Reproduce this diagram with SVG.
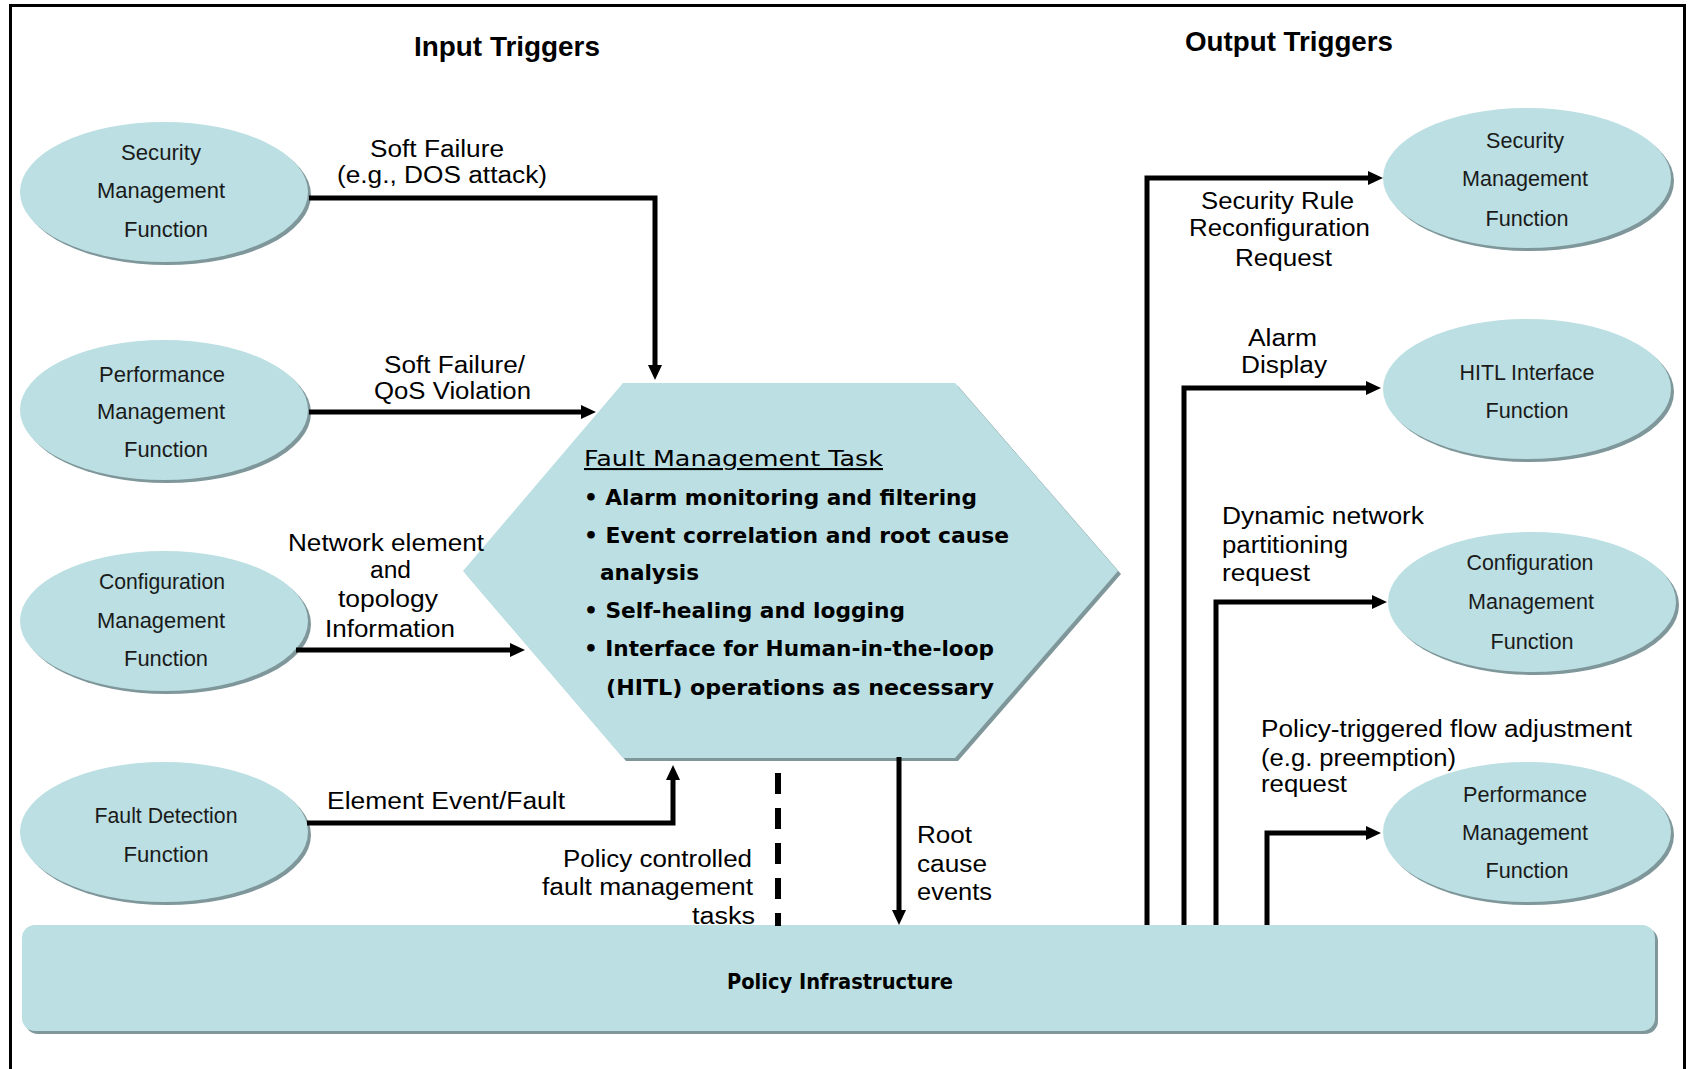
<svg xmlns="http://www.w3.org/2000/svg" width="1688" height="1069" viewBox="0 0 1688 1069">
  <defs>
    <style>
      .bg { fill: #ffffff; }
      .frame { fill: none; stroke: #000; stroke-width: 3; }
      .shade { fill: #7F979A; }
      .body { fill: #BBDFE2; }
      .ntext { font-family: "Liberation Sans", Arial, sans-serif; font-size: 22.5px; fill: #1a1a1a; text-anchor: middle; }
      .title { font-family: "Liberation Sans", Arial, sans-serif; font-size: 28px; font-weight: bold; fill: #000; }
      .lbl { font-family: "Liberation Sans", Arial, sans-serif; font-size: 23px; fill: #000; }
      .task { font-family: "DejaVu Sans", Verdana, sans-serif; font-size: 21px; font-weight: bold; fill: #000; }
      .taskhead { font-family: "DejaVu Sans", Verdana, sans-serif; font-size: 21px; fill: #000; text-decoration: underline; }
      .wire { fill: none; stroke: #000; stroke-width: 5; stroke-linejoin: miter; }
      .dash { fill: none; stroke: #000; stroke-width: 6; stroke-dasharray: 21 14; }
    </style>
    <marker id="arrow" viewBox="0 0 15 14" refX="1" refY="7" markerWidth="15" markerHeight="14" markerUnits="userSpaceOnUse" orient="auto">
      <path d="M0,0 L15,7 L0,14 z" fill="#000"/>
    </marker>
  </defs>

  <rect class="bg" x="0" y="0" width="1688" height="1069"/>
  <path class="frame" d="M10.5,1069 V5.5 H1684.5 V1069"/>

  <!-- column headings -->
  <text class="title" x="414" y="56" textLength="186" lengthAdjust="spacingAndGlyphs">Input Triggers</text>
  <text class="title" x="1185" y="51" textLength="208" lengthAdjust="spacingAndGlyphs">Output Triggers</text>

  <!-- input functions -->
  <g id="in-security">
    <ellipse class="shade" cx="167" cy="195" rx="144" ry="70"/>
    <ellipse class="body" cx="164" cy="192" rx="144" ry="70"/>
    <text class="ntext" x="161" y="160" textLength="80" lengthAdjust="spacingAndGlyphs">Security</text>
    <text class="ntext" x="161" y="198" textLength="128" lengthAdjust="spacingAndGlyphs">Management</text>
    <text class="ntext" x="166" y="237" textLength="84" lengthAdjust="spacingAndGlyphs">Function</text>
  </g>
  <g id="in-performance">
    <ellipse class="shade" cx="167" cy="413" rx="144" ry="70"/>
    <ellipse class="body" cx="164" cy="410" rx="144" ry="70"/>
    <text class="ntext" x="162" y="382" textLength="126" lengthAdjust="spacingAndGlyphs">Performance</text>
    <text class="ntext" x="161" y="419" textLength="128" lengthAdjust="spacingAndGlyphs">Management</text>
    <text class="ntext" x="166" y="457" textLength="84" lengthAdjust="spacingAndGlyphs">Function</text>
  </g>
  <g id="in-configuration">
    <ellipse class="shade" cx="167" cy="624" rx="144" ry="70"/>
    <ellipse class="body" cx="164" cy="621" rx="144" ry="70"/>
    <text class="ntext" x="162" y="589" textLength="126" lengthAdjust="spacingAndGlyphs">Configuration</text>
    <text class="ntext" x="161" y="628" textLength="128" lengthAdjust="spacingAndGlyphs">Management</text>
    <text class="ntext" x="166" y="666" textLength="84" lengthAdjust="spacingAndGlyphs">Function</text>
  </g>
  <g id="in-fault-detection">
    <ellipse class="shade" cx="167" cy="835" rx="144" ry="70"/>
    <ellipse class="body" cx="164" cy="832" rx="144" ry="70"/>
    <text class="ntext" x="166" y="823" textLength="143" lengthAdjust="spacingAndGlyphs">Fault Detection</text>
    <text class="ntext" x="166" y="862" textLength="85" lengthAdjust="spacingAndGlyphs">Function</text>
  </g>

  <!-- central task -->
  <g id="fault-task">
    <polygon class="shade" points="626,386 958,386 1121,574 958,761 626,761 466,574"/>
    <polygon class="body" points="623,383 955,383 1118,571 955,758 623,758 463,571"/>
    <text class="taskhead" x="584" y="466" textLength="299" lengthAdjust="spacingAndGlyphs">Fault Management Task</text>
    <text class="task" x="584" y="505" textLength="393" lengthAdjust="spacingAndGlyphs">• Alarm monitoring and filtering</text>
    <text class="task" x="584" y="543" textLength="425" lengthAdjust="spacingAndGlyphs">• Event correlation and root cause</text>
    <text class="task" x="600" y="580" textLength="99" lengthAdjust="spacingAndGlyphs">analysis</text>
    <text class="task" x="584" y="618" textLength="321" lengthAdjust="spacingAndGlyphs">• Self-healing and logging</text>
    <text class="task" x="584" y="656" textLength="410" lengthAdjust="spacingAndGlyphs">• Interface for Human-in-the-loop</text>
    <text class="task" x="606" y="695" textLength="388" lengthAdjust="spacingAndGlyphs">(HITL) operations as necessary</text>
  </g>

  <!-- output functions -->
  <g id="out-security">
    <ellipse class="shade" cx="1530" cy="181" rx="144" ry="70"/>
    <ellipse class="body" cx="1527" cy="178" rx="144" ry="70"/>
    <text class="ntext" x="1525" y="148" textLength="78" lengthAdjust="spacingAndGlyphs">Security</text>
    <text class="ntext" x="1525" y="186" textLength="126" lengthAdjust="spacingAndGlyphs">Management</text>
    <text class="ntext" x="1527" y="226" textLength="83" lengthAdjust="spacingAndGlyphs">Function</text>
  </g>
  <g id="out-hitl">
    <ellipse class="shade" cx="1530" cy="392" rx="144" ry="70"/>
    <ellipse class="body" cx="1527" cy="389" rx="144" ry="70"/>
    <text class="ntext" x="1527" y="380" textLength="135" lengthAdjust="spacingAndGlyphs">HITL Interface</text>
    <text class="ntext" x="1527" y="418" textLength="83" lengthAdjust="spacingAndGlyphs">Function</text>
  </g>
  <g id="out-configuration">
    <ellipse class="shade" cx="1535" cy="605" rx="144" ry="70"/>
    <ellipse class="body" cx="1532" cy="602" rx="144" ry="70"/>
    <text class="ntext" x="1530" y="570" textLength="127" lengthAdjust="spacingAndGlyphs">Configuration</text>
    <text class="ntext" x="1531" y="609" textLength="126" lengthAdjust="spacingAndGlyphs">Management</text>
    <text class="ntext" x="1532" y="649" textLength="83" lengthAdjust="spacingAndGlyphs">Function</text>
  </g>
  <g id="out-performance">
    <ellipse class="shade" cx="1530" cy="835" rx="144" ry="70"/>
    <ellipse class="body" cx="1527" cy="832" rx="144" ry="70"/>
    <text class="ntext" x="1525" y="802" textLength="124" lengthAdjust="spacingAndGlyphs">Performance</text>
    <text class="ntext" x="1525" y="840" textLength="126" lengthAdjust="spacingAndGlyphs">Management</text>
    <text class="ntext" x="1527" y="878" textLength="83" lengthAdjust="spacingAndGlyphs">Function</text>
  </g>

  <!-- policy layer -->
  <g id="policy-infrastructure">
    <rect class="shade" x="25" y="928" width="1633" height="106" rx="13"/>
    <rect class="body" x="22" y="925" width="1633" height="106" rx="13"/>
    <text class="task" x="727" y="989" font-size="19" textLength="226" lengthAdjust="spacingAndGlyphs">Policy Infrastructure</text>
  </g>

  <!-- connectors -->
  <g id="connectors">
    <path class="wire" d="M309,198 H655 V366" marker-end="url(#arrow)"/>
    <path class="wire" d="M309,412 H582" marker-end="url(#arrow)"/>
    <path class="wire" d="M296,650 H511" marker-end="url(#arrow)"/>
    <path class="wire" d="M307,823 H673 V779" marker-end="url(#arrow)"/>
    <path class="dash" d="M778,773 V926"/>
    <path class="wire" d="M899,757 V911" marker-end="url(#arrow)"/>
    <path class="wire" d="M1147,925 V178 H1369" marker-end="url(#arrow)"/>
    <path class="wire" d="M1184,925 V388 H1367" marker-end="url(#arrow)"/>
    <path class="wire" d="M1216,925 V602 H1373" marker-end="url(#arrow)"/>
    <path class="wire" d="M1267,925 V833 H1367" marker-end="url(#arrow)"/>

    <text class="lbl" x="370" y="157" textLength="134" lengthAdjust="spacingAndGlyphs">Soft Failure</text>
    <text class="lbl" x="337" y="183" textLength="210" lengthAdjust="spacingAndGlyphs">(e.g., DOS attack)</text>
    <text class="lbl" x="384" y="373" textLength="141" lengthAdjust="spacingAndGlyphs">Soft Failure/</text>
    <text class="lbl" x="374" y="399" textLength="157" lengthAdjust="spacingAndGlyphs">QoS Violation</text>
    <text class="lbl" x="288" y="551" textLength="196" lengthAdjust="spacingAndGlyphs">Network element</text>
    <text class="lbl" x="370" y="578" textLength="41" lengthAdjust="spacingAndGlyphs">and</text>
    <text class="lbl" x="338" y="607" textLength="100" lengthAdjust="spacingAndGlyphs">topology</text>
    <text class="lbl" x="325" y="637" textLength="130" lengthAdjust="spacingAndGlyphs">Information</text>
    <text class="lbl" x="327" y="809" textLength="238" lengthAdjust="spacingAndGlyphs">Element Event/Fault</text>
    <text class="lbl" x="563" y="867" textLength="189" lengthAdjust="spacingAndGlyphs">Policy controlled</text>
    <text class="lbl" x="542" y="895" textLength="211" lengthAdjust="spacingAndGlyphs">fault management</text>
    <text class="lbl" x="692" y="924" textLength="63" lengthAdjust="spacingAndGlyphs">tasks</text>
    <text class="lbl" x="917" y="843" textLength="55" lengthAdjust="spacingAndGlyphs">Root</text>
    <text class="lbl" x="917" y="872" textLength="70" lengthAdjust="spacingAndGlyphs">cause</text>
    <text class="lbl" x="917" y="900" textLength="75" lengthAdjust="spacingAndGlyphs">events</text>

    <text class="lbl" x="1201" y="209" textLength="153" lengthAdjust="spacingAndGlyphs">Security Rule</text>
    <text class="lbl" x="1189" y="236" textLength="181" lengthAdjust="spacingAndGlyphs">Reconfiguration</text>
    <text class="lbl" x="1235" y="266" textLength="97" lengthAdjust="spacingAndGlyphs">Request</text>
    <text class="lbl" x="1248" y="346" textLength="69" lengthAdjust="spacingAndGlyphs">Alarm</text>
    <text class="lbl" x="1241" y="373" textLength="86" lengthAdjust="spacingAndGlyphs">Display</text>
    <text class="lbl" x="1222" y="524" textLength="202" lengthAdjust="spacingAndGlyphs">Dynamic network</text>
    <text class="lbl" x="1222" y="553" textLength="126" lengthAdjust="spacingAndGlyphs">partitioning</text>
    <text class="lbl" x="1222" y="581" textLength="88" lengthAdjust="spacingAndGlyphs">request</text>
    <text class="lbl" x="1261" y="737" textLength="371" lengthAdjust="spacingAndGlyphs">Policy-triggered flow adjustment</text>
    <text class="lbl" x="1261" y="766" textLength="195" lengthAdjust="spacingAndGlyphs">(e.g. preemption)</text>
    <text class="lbl" x="1261" y="792" textLength="86" lengthAdjust="spacingAndGlyphs">request</text>
  </g>
</svg>
